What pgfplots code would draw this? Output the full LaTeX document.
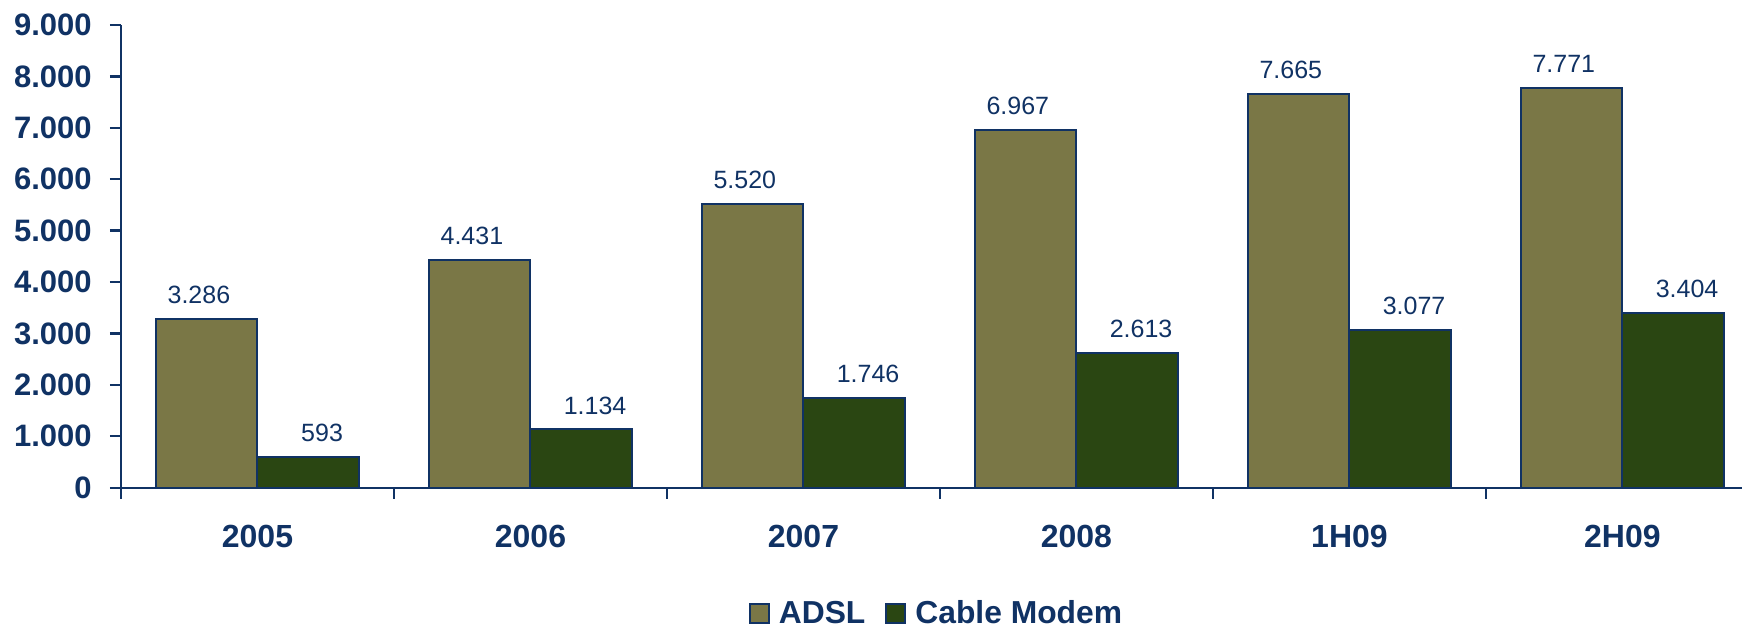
\documentclass[border=0pt]{standalone}
\usepackage{fontspec}
\setmainfont{Liberation Sans}
\usepackage{pgfplots}
\pgfplotsset{compat=1.18}
\definecolor{navy}{RGB}{16,50,100}
\definecolor{adsl}{RGB}{122,119,70}
\definecolor{cable}{RGB}{42,70,18}
\begin{document}
\begin{tikzpicture}
\path[use as bounding box] (0,0) rectangle (871pt,314pt);
\begin{axis}[
  at={(60.5pt,70.15pt)}, anchor=south west,
  scale only axis, width=810.5pt, height=231.35pt,
  xmin=-0.5, xmax=5.438, ymin=0, ymax=9000,
  axis lines*=left,
  axis line style={navy, line width=1.2pt},
  xtick={0,...,5},
  xticklabels={2005,2006,2007,2008,1H09,2H09},
  minor xtick={-0.5,0.5,1.5,2.5,3.5,4.5},
  major x tick style={draw=none},
  minor x tick style={navy, line width=1.2pt},
  ytick={0,1000,...,9000},
  yticklabels={0,1.000,2.000,3.000,4.000,5.000,6.000,7.000,8.000,9.000},
  y tick style={navy, line width=1.2pt},
  tick align=outside,
  major tick length=5.5pt, minor tick length=5.5pt,
  x tick label style={font=\fontsize{16}{18}\selectfont\bfseries, text=navy, anchor=center, yshift=-19pt},
  y tick label style={font=\fontsize{15.5}{18}\selectfont\bfseries, text=navy, anchor=east, inner sep=0pt, xshift=-9pt},
  legend style={at={(0.5,-0.272)}, anchor=center, draw=none, fill=none, legend columns=2, xshift=2.5pt,
    inner sep=0pt, nodes={inner sep=1pt},
    font=\fontsize{15.9}{18}\selectfont\bfseries, text=navy,
    /tikz/every even column/.append style={column sep=9pt}},
  clip=false,
]
\addplot[ybar, bar width=0.373, bar shift=-0.1865, fill=adsl, draw=navy, line width=1pt,
  legend image code/.code={\draw[fill=adsl,draw=navy,line width=1pt] (0pt,-4.75pt) rectangle (9.5pt,4.75pt);},
  point meta=explicit symbolic, nodes near coords,
  nodes near coords style={font=\fontsize{12.5}{14}\selectfont, text=navy, anchor=center, yshift=12pt, xshift=-29.3pt}]
  coordinates {(0,3286)[3.286] (1,4431)[4.431] (2,5520)[5.520] (3,6967)[6.967] (4,7665)[7.665] (5,7771)[7.771]};
\addlegendentry{\hspace{3.5pt}ADSL}
\addplot[ybar, bar width=0.373, bar shift=0.1865, fill=cable, draw=navy, line width=1pt,
  legend image code/.code={\draw[fill=cable,draw=navy,line width=1pt] (0pt,-4.75pt) rectangle (9.5pt,4.75pt);},
  point meta=explicit symbolic, nodes near coords,
  nodes near coords style={font=\fontsize{12.5}{14}\selectfont, text=navy, anchor=center, yshift=12pt, xshift=32.3pt}]
  coordinates {(0,593)[593] (1,1134)[1.134] (2,1746)[1.746] (3,2613)[2.613] (4,3077)[3.077] (5,3404)[3.404]};
\addlegendentry{\hspace{3.5pt}Cable Modem}
\end{axis}
\end{tikzpicture}
\end{document}
